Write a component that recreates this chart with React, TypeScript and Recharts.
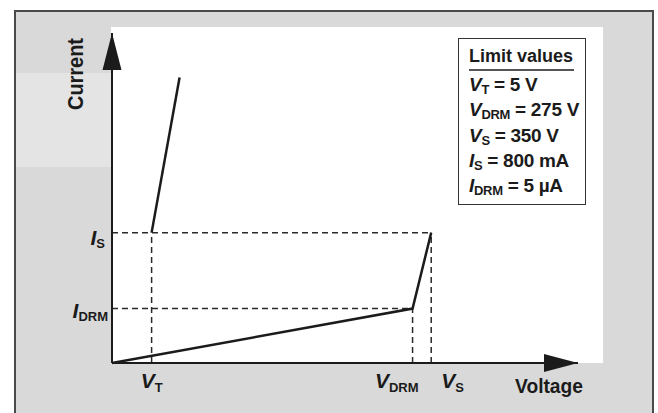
import React from 'react';
import { ComposedChart, Line, XAxis, YAxis, ReferenceLine, ReferenceDot, Legend, Label } from 'recharts';

// Schematic units (voltage 0..100 along the axis, current 0..100 along the axis)
const voltageTicks = [8.5, 64.5, 68.5];
const voltageTickLabels = [
  { sym: 'V', sub: 'T' },
  { sym: 'V', sub: 'DRM' },
  { sym: 'V', sub: 'S' },
];
const currentTicks = [16.5, 39.5];
const currentTickLabels = [
  { sym: 'I', sub: 'DRM' },
  { sym: 'I', sub: 'S' },
];
const blockingCurve = [
  { v: 0, i: 0 },
  { v: 64.5, i: 16.5 },
  { v: 68.5, i: 39.5 },
];
const onStateCurve = [
  { v: 8.5, i: 39.5 },
  { v: 14.5, i: 86.5 },
];
const limitValues = [
  { sym: 'V', sub: 'T', value: '5 V' },
  { sym: 'V', sub: 'DRM', value: '275 V' },
  { sym: 'V', sub: 'S', value: '350 V' },
  { sym: 'I', sub: 'S', value: '800 mA' },
  { sym: 'I', sub: 'DRM', value: '5 µA' },
];
const axisMax = 100;

const FONT = "'Liberation Sans', Arial, sans-serif";
const INK = '#1b1b1b';

// label placement per tick (renderer-side styling)
const vTickPlacement: Record<string, { anchor: string; dx: number }> = {
  T: { anchor: 'middle', dx: 0 },
  DRM: { anchor: 'end', dx: 6 },
  S: { anchor: 'start', dx: 10 },
};
const iTickPlacement: Record<string, { dx: number; dy: number }> = {
  S: { dx: -7, dy: 12 },
  DRM: { dx: -4, dy: 9 },
};

const VTick = (props: any) => {
  const { x, y, payload } = props;
  const idx = voltageTicks.indexOf(payload.value);
  const lab = voltageTickLabels[idx];
  if (!lab) return null;
  const p = vTickPlacement[lab.sub];
  return (
    <text x={x + p.dx} y={y + 25} textAnchor={p.anchor as any} fontFamily={FONT} fontWeight="bold" fill={INK}>
      <tspan fontSize={21} fontStyle="italic">{lab.sym}</tspan>
      <tspan fontSize={13} dy={4}>{lab.sub}</tspan>
    </text>
  );
};

const ITick = (props: any) => {
  const { x, y, payload } = props;
  const idx = currentTicks.indexOf(payload.value);
  const lab = currentTickLabels[idx];
  if (!lab) return null;
  const p = iTickPlacement[lab.sub];
  return (
    <text x={x + p.dx} y={y + p.dy} textAnchor="end" fontFamily={FONT} fontWeight="bold" fill={INK}>
      <tspan fontSize={21} fontStyle="italic">{lab.sym}</tspan>
      <tspan fontSize={13} dy={3}>{lab.sub}</tspan>
    </text>
  );
};

const ArrowRight = (props: any) => {
  const { cx, cy } = props;
  return <path d={`M${cx},${cy} L${cx - 34},${cy - 9} L${cx - 34},${cy + 9} Z`} fill={INK} />;
};
const ArrowUp = (props: any) => {
  const { cx, cy } = props;
  return <path d={`M${cx},${cy} L${cx - 9.5},${cy + 37} L${cx + 9.5},${cy + 37} Z`} fill={INK} />;
};

const LimitBox = () => (
  <div
    style={{
      width: 128,
      height: 167,
      border: '1.5px solid #333',
      background: '#fff',
      fontFamily: FONT,
      fontWeight: 'bold',
      color: INK,
      boxSizing: 'border-box',
      padding: '8px 0 0 10px',
      textAlign: 'left',
    }}
  >
    <div style={{ fontSize: 18, lineHeight: '19px', borderBottom: '2px solid #555', width: 105, paddingBottom: 3, marginBottom: 2, whiteSpace: 'nowrap' }}>
      Limit values
    </div>
    {limitValues.map((r) => (
      <div key={r.sub + r.sym} style={{ fontSize: 19, lineHeight: '23.3px', whiteSpace: 'nowrap', letterSpacing: -0.3 }}>
        <span style={{ fontStyle: 'italic' }}>{r.sym}</span>
        <span style={{ fontSize: 13, position: 'relative', top: 3 }}>{r.sub}</span>
        {' = ' + r.value}
      </div>
    ))}
  </div>
);

const dash = { stroke: '#2a2a2a', strokeWidth: 1.5, strokeDasharray: '6 4' };

export default function App() {
  return (
    <div style={{ position: 'absolute', left: 0, top: 0, width: 658, height: 413, overflow: 'hidden', background: '#fff' }}>
      <div style={{ position: 'absolute', left: 14, top: 10, width: 640, height: 420, border: '2px solid #4a4a4a', background: '#d9d9d9', boxSizing: 'border-box' }} />
      <div style={{ position: 'absolute', left: 16, top: 73, width: 95, height: 94, background: '#e4e4e4' }} />
      <div style={{ position: 'absolute', left: 111, top: 27, width: 492, height: 336, background: '#fff' }} />
      <div style={{ position: 'absolute', left: 0, top: 0 }}>
        <ComposedChart width={658} height={413} margin={{ top: 33, right: 80, bottom: 0, left: 0 }}>
          <XAxis
            type="number"
            dataKey="v"
            domain={[0, axisMax]}
            ticks={voltageTicks}
            tick={<VTick />}
            tickLine={false}
            tickSize={0}
            tickMargin={0}
            height={50}
            axisLine={{ stroke: INK, strokeWidth: 2 }}
            interval={0}
          >
            <Label
              content={(p: any) => {
                const vb = p.viewBox;
                return (
                  <text x={vb.x + vb.width + 5} y={vb.y + 30} textAnchor="end" fontFamily={FONT} fontWeight="bold" fontSize={21} fill={INK} textLength={68} lengthAdjust="spacingAndGlyphs">
                    Voltage
                  </text>
                );
              }}
            />
          </XAxis>
          <YAxis
            type="number"
            domain={[0, axisMax]}
            ticks={currentTicks}
            tick={<ITick />}
            tickLine={false}
            tickSize={0}
            tickMargin={0}
            width={112}
            axisLine={{ stroke: INK, strokeWidth: 2 }}
            interval={0}
          >
            <Label
              content={(p: any) => {
                const vb = p.viewBox;
                const cx = vb.x + vb.width - 29;
                const cy = vb.y + 41;
                return (
                  <text x={cx} y={cy} textAnchor="middle" transform={`rotate(-90 ${cx} ${cy})`} fontFamily={FONT} fontWeight="bold" fontSize={22} fill={INK} textLength={72} lengthAdjust="spacingAndGlyphs">
                    Current
                  </text>
                );
              }}
            />
          </YAxis>

          <ReferenceLine segment={[{ x: 0, y: currentTicks[1] }, { x: voltageTicks[2], y: currentTicks[1] }]} {...dash} />
          <ReferenceLine segment={[{ x: 0, y: currentTicks[0] }, { x: voltageTicks[1], y: currentTicks[0] }]} {...dash} />
          <ReferenceLine segment={[{ x: voltageTicks[0], y: 0 }, { x: voltageTicks[0], y: currentTicks[1] }]} {...dash} />
          <ReferenceLine segment={[{ x: voltageTicks[1], y: 0 }, { x: voltageTicks[1], y: currentTicks[0] }]} {...dash} />
          <ReferenceLine segment={[{ x: voltageTicks[2], y: 0 }, { x: voltageTicks[2], y: currentTicks[1] }]} {...dash} />

          <Line data={blockingCurve} dataKey="i" type="linear" stroke={INK} strokeWidth={2.5} dot={false} isAnimationActive={false} />
          <Line data={onStateCurve} dataKey="i" type="linear" stroke={INK} strokeWidth={2.5} dot={false} isAnimationActive={false} />

          <ReferenceDot x={axisMax} y={0} r={0} ifOverflow="visible" shape={<ArrowRight />} />
          <ReferenceDot x={0} y={axisMax} r={0} ifOverflow="visible" shape={<ArrowUp />} />

          <Legend
            layout="horizontal"
            verticalAlign="middle"
            align="center"
            content={() => <LimitBox />}
            wrapperStyle={{ left: 458, top: 38, width: 128, height: 167 }}
          />
        </ComposedChart>
      </div>
    </div>
  );
}
